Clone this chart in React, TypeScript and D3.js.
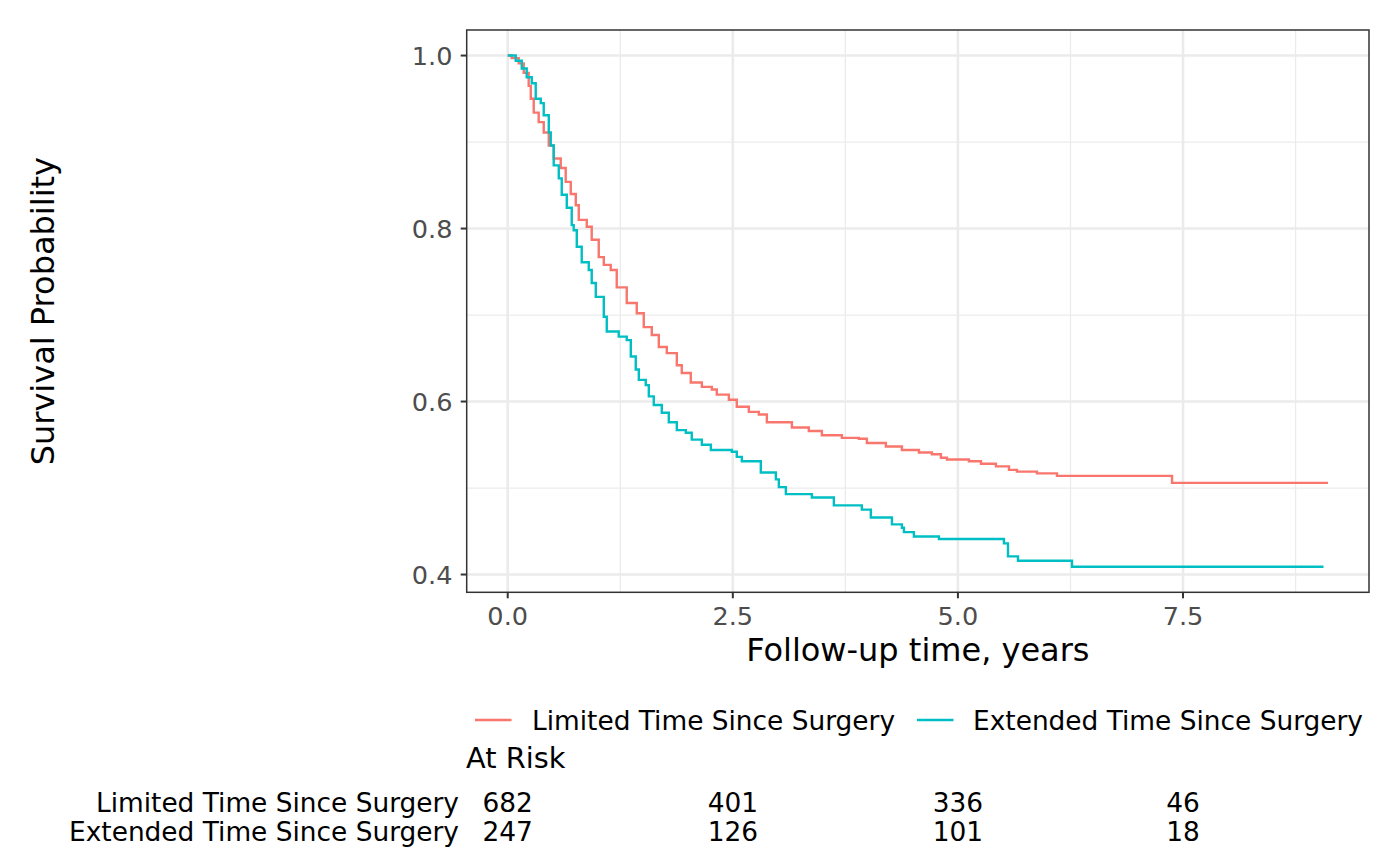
import React from "react";
import * as d3 from "d3";

const limitedTime = [0, 0.044, 0.122, 0.178, 0.233, 0.256, 0.289, 0.344, 0.4, 0.456, 0.511, 0.589, 0.644, 0.7, 0.756, 0.789, 0.878, 0.933, 1.011, 1.067, 1.144, 1.211, 1.322, 1.433, 1.511, 1.6, 1.678, 1.767, 1.878, 1.933, 2.033, 2.156, 2.267, 2.322, 2.456, 2.544, 2.678, 2.789, 2.878, 3.156, 3.344, 3.489, 3.711, 3.9, 3.989, 4.2, 4.378, 4.567, 4.711, 4.811, 4.878, 5.122, 5.256, 5.422, 5.567, 5.656, 5.878, 6.1, 7.378, 9.11];
const limitedSurv = [1.0, 0.997, 0.991, 0.98, 0.965, 0.95, 0.934, 0.923, 0.911, 0.896, 0.881, 0.87, 0.854, 0.84, 0.827, 0.81, 0.802, 0.787, 0.767, 0.758, 0.752, 0.732, 0.714, 0.702, 0.686, 0.677, 0.663, 0.656, 0.642, 0.633, 0.622, 0.617, 0.614, 0.608, 0.602, 0.594, 0.588, 0.585, 0.576, 0.57, 0.566, 0.561, 0.558, 0.557, 0.552, 0.548, 0.544, 0.541, 0.539, 0.535, 0.533, 0.531, 0.528, 0.525, 0.521, 0.519, 0.517, 0.514, 0.506, 0.506];

const extendedTime = [0, 0.089, 0.156, 0.211, 0.267, 0.311, 0.367, 0.4, 0.456, 0.478, 0.511, 0.567, 0.6, 0.656, 0.711, 0.733, 0.767, 0.822, 0.9, 0.933, 0.978, 1.067, 1.1, 1.233, 1.322, 1.367, 1.422, 1.456, 1.533, 1.567, 1.622, 1.711, 1.789, 1.878, 1.978, 2.044, 2.156, 2.256, 2.489, 2.544, 2.6, 2.811, 2.978, 3.011, 3.089, 3.378, 3.622, 3.933, 4.033, 4.267, 4.378, 4.4, 4.511, 4.789, 5.511, 5.556, 5.667, 6.267, 9.06];
const extendedSurv = [1.0, 0.994, 0.985, 0.975, 0.968, 0.95, 0.945, 0.931, 0.911, 0.896, 0.873, 0.858, 0.839, 0.824, 0.804, 0.798, 0.779, 0.761, 0.752, 0.737, 0.721, 0.698, 0.681, 0.675, 0.671, 0.652, 0.637, 0.625, 0.619, 0.606, 0.596, 0.587, 0.576, 0.567, 0.564, 0.556, 0.55, 0.544, 0.542, 0.536, 0.531, 0.518, 0.51, 0.501, 0.493, 0.489, 0.48, 0.475, 0.466, 0.458, 0.454, 0.449, 0.444, 0.441, 0.436, 0.421, 0.416, 0.409, 0.409];

const groups = ["Limited Time Since Surgery", "Extended Time Since Surgery"];
const groupColors = ["#F8766D", "#00BFC4"];
const xTicks = [0, 2.5, 5, 7.5];
const xTickLabels = ["0.0", "2.5", "5.0", "7.5"];
const xMinor = [1.25, 3.75, 6.25, 8.75];
const yTicks = [0.4, 0.6, 0.8, 1.0];
const yTickLabels = ["0.4", "0.6", "0.8", "1.0"];
const yMinor = [0.5, 0.7, 0.9];
const riskTimes = [0, 2.5, 5, 7.5];
const limitedAtRisk = [682, 401, 336, 46];
const extendedAtRisk = [247, 126, 101, 18];

const FONT = "DejaVu Sans";

export default function App() {
  const W = 1400, H = 865;
  const left = 466.7, right = 1369, top = 30, bottom = 592.3;
  const xMax = 9.11;
  const yMinD = 0.409, yMaxD = 1.0;
  const xe = xMax * 0.05, ye = (yMaxD - yMinD) * 0.05;
  const x = d3.scaleLinear().domain([0 - xe, xMax + xe]).range([left, right]);
  const y = d3.scaleLinear().domain([yMinD - ye, yMaxD + ye]).range([bottom, top]);

  const line = d3
    .line<[number, number]>()
    .x((d) => x(d[0]))
    .y((d) => y(d[1]))
    .curve(d3.curveStepAfter);

  const series = [
    limitedTime.map((t, i) => [t, limitedSurv[i]] as [number, number]),
    extendedTime.map((t, i) => [t, extendedSurv[i]] as [number, number]),
  ];
  const riskRows = [limitedAtRisk, extendedAtRisk];

  const grid = "#EBEBEB";
  return (
    <svg width={W} height={H} style={{ position: "absolute", left: 0, top: 0 }} fontFamily={FONT}>
      <rect x={0} y={0} width={W} height={H} fill="#fff" />
      <rect x={left} y={top} width={right - left} height={bottom - top} fill="#fff" />
      {xMinor.map((v) => (
        <line key={"xm" + v} x1={x(v)} x2={x(v)} y1={top} y2={bottom} stroke={grid} strokeWidth={1.3} />
      ))}
      {yMinor.map((v) => (
        <line key={"ym" + v} x1={left} x2={right} y1={y(v)} y2={y(v)} stroke={grid} strokeWidth={1.3} />
      ))}
      {xTicks.map((v) => (
        <line key={"xM" + v} x1={x(v)} x2={x(v)} y1={top} y2={bottom} stroke={grid} strokeWidth={2.6} />
      ))}
      {yTicks.map((v) => (
        <line key={"yM" + v} x1={left} x2={right} y1={y(v)} y2={y(v)} stroke={grid} strokeWidth={2.6} />
      ))}
      {series.map((s, i) => (
        <path key={"s" + i} d={line(s) || ""} fill="none" stroke={groupColors[i]} strokeWidth={2.4} />
      ))}
      <rect x={left} y={top} width={right - left} height={bottom - top} fill="none" stroke="#333333" strokeWidth={1.5} />
      {xTicks.map((v, i) => (
        <g key={"xt" + v}>
          <line x1={x(v)} x2={x(v)} y1={bottom} y2={bottom + 6} stroke="#333333" strokeWidth={2} />
          <text x={x(v)} y={625} textAnchor="middle" fontSize={25.6} fill="#4D4D4D">
            {xTickLabels[i]}
          </text>
        </g>
      ))}
      {yTicks.map((v, i) => (
        <g key={"yt" + v}>
          <line x1={left - 6} x2={left} y1={y(v)} y2={y(v)} stroke="#333333" strokeWidth={2} />
          <text x={452.5} y={y(v)} dy="0.36em" textAnchor="end" fontSize={25.6} fill="#4D4D4D">
            {yTickLabels[i]}
          </text>
        </g>
      ))}
      <text x={(left + right) / 2} y={661} textAnchor="middle" fontSize={32} fill="#000">
        Follow-up time, years
      </text>
      <text transform={`translate(54,${(top + bottom) / 2}) rotate(-90)`} textAnchor="middle" fontSize={32} fill="#000">
        Survival Probability
      </text>
      {/* legend */}
      {[
        { lx: 475, tx: 532 },
        { lx: 917, tx: 973 },
      ].map((p, i) => (
        <g key={"lg" + i}>
          <line x1={p.lx} x2={p.lx + 36.5} y1={720} y2={720} stroke={groupColors[i]} strokeWidth={2.4} />
          <text x={p.tx} y={730} fontSize={26.4} fill="#000">
            {groups[i]}
          </text>
        </g>
      ))}
      <text x={466} y={768} fontSize={28.8} fill="#000">
        At Risk
      </text>
      {riskRows.map((row, ri) => (
        <g key={"rr" + ri}>
          <text x={459} y={ri === 0 ? 811.5 : 841} textAnchor="end" fontSize={26.4} fill="#000">
            {groups[ri]}
          </text>
          {row.map((n, j) => (
            <text key={j} x={x(riskTimes[j])} y={ri === 0 ? 811.5 : 841} textAnchor="middle" fontSize={26.4} fill="#000">
              {n}
            </text>
          ))}
        </g>
      ))}
    </svg>
  );
}
